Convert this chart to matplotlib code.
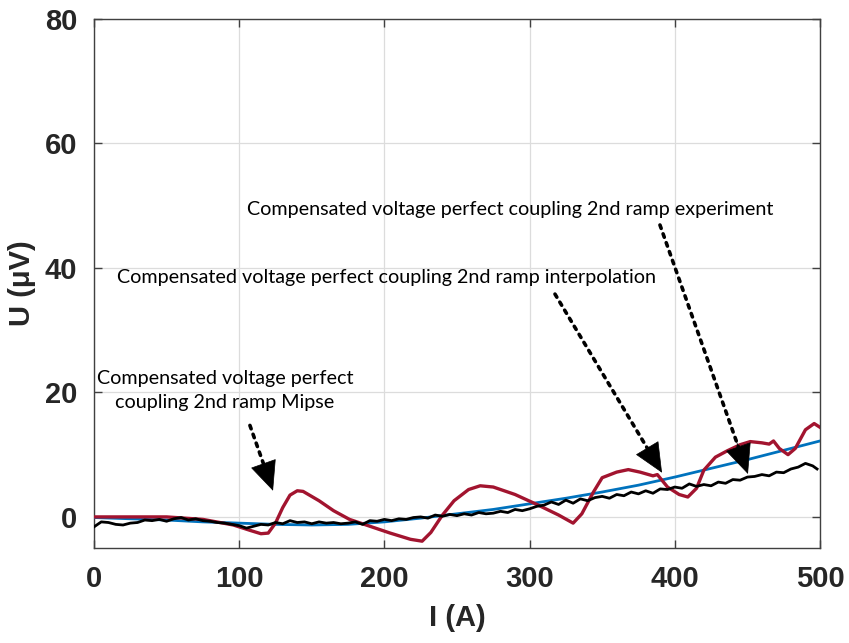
import numpy as np
import matplotlib
matplotlib.use("Agg")
import matplotlib.pyplot as plt

# --- data ---
mipse_I = [0, 20, 50, 75, 96, 108, 115, 120, 125, 130, 135, 140, 144, 155, 165, 176, 190, 204,
           218, 226, 232, 240, 248, 258, 266, 275, 290, 305, 320, 330, 336, 344, 350, 360, 368,
           376, 385, 388, 395, 403, 409, 415, 420, 428, 436, 445, 452, 460, 465, 468, 472, 478,
           483, 490, 496, 500]
mipse_U = [0.0, 0.0, 0.0, -0.4, -1.3, -2.2, -2.7, -2.6, -1.0, 1.5, 3.5, 4.2, 4.1, 2.6, 1.0, -0.4,
           -1.5, -2.6, -3.6, -3.9, -2.5, 0.3, 2.6, 4.4, 5.0, 4.8, 3.6, 2.0, 0.3, -1.0, 0.5, 4.0,
           6.3, 7.2, 7.6, 7.2, 6.6, 6.8, 4.8, 3.6, 3.2, 4.6, 7.5, 9.6, 10.6, 11.6, 12.1, 11.9,
           11.7, 12.2, 11.0, 10.0, 11.0, 14.0, 15.0, 14.4]

interp_I = [0, 25, 50, 75, 100, 125, 150, 175, 200, 225, 250, 275, 300, 325, 350, 375, 400,
            425, 450, 475, 500]
interp_U = [-0.1, -0.3, -0.5, -0.8, -1.0, -1.2, -1.3, -1.2, -0.8, -0.2, 0.5, 1.2, 2.1, 3.0,
            4.0, 5.1, 6.4, 7.8, 9.2, 10.7, 12.2]

exp_I = list(range(0, 500, 5)) + [498]
exp_U = [-1.6, -0.8, -0.9, -1.2, -1.3, -1.0, -0.9, -0.5, -0.6, -0.4, -0.7, -0.3, -0.1, -0.5,
         -0.3, -0.6, -0.7, -0.9, -1.0, -1.2, -1.4, -1.8, -1.5, -1.2, -1.3, -0.9, -1.1, -0.6,
         -0.9, -0.8, -1.1, -0.8, -1.0, -0.9, -1.1, -1.0, -0.8, -1.2, -0.6, -0.7, -0.4, -0.6,
         -0.3, -0.4, -0.1, 0.0, -0.2, 0.3, 0.1, 0.4, 0.2, 0.5, 0.3, 0.7, 0.5, 0.6, 0.9, 0.7,
         1.2, 1.0, 1.3, 1.7, 1.9, 2.4, 2.0, 2.7, 2.2, 2.9, 2.6, 3.1, 3.3, 3.0, 3.6, 3.4, 4.0,
         3.7, 4.2, 3.8, 4.5, 4.4, 4.8, 4.6, 5.3, 4.9, 5.2, 5.0, 5.6, 5.4, 6.0, 5.9, 6.4, 6.5,
         6.8, 6.6, 7.2, 7.1, 7.7, 8.0, 8.6, 8.2, 7.7]

x_ticks = [0, 100, 200, 300, 400, 500]
y_ticks = [0, 20, 40, 60, 80]

# annotation text, text position, arrow tail and arrow tip (data coords)
notes = [
    ("Compensated voltage perfect coupling 2nd ramp experiment", (286.5, 49.4), (389.8, 46.9), (450.4, 6.9)),
    ("Compensated voltage perfect coupling 2nd ramp interpolation", (201.8, 38.4), (317.5, 35.8), (391.2, 7.1)),
    ("Compensated voltage perfect\ncoupling 2nd ramp Mipse", (90.2, 20.3), (107.4, 14.7), (123.3, 4.2)),
]

fig = plt.figure(figsize=(8.49, 6.43), dpi=100)
ax = fig.add_axes([0.1107, 0.1477, 0.8551, 0.8228])

ax.plot(interp_I, interp_U, color="#0072BD", lw=2.0, zorder=3)
ax.plot(mipse_I, mipse_U, color="#A2142F", lw=2.4, zorder=4)
ax.plot(exp_I, exp_U, color="black", lw=2.0, zorder=5)

ax.set_xlim(0, 500)
ax.set_ylim(-5, 80)
ax.set_xticks(x_ticks)
ax.set_yticks(y_ticks)
ax.grid(True, color="#dcdcdc", lw=0.9)
ax.set_axisbelow(True)
ax.tick_params(direction="in", top=True, right=True, length=6, width=1, color="#404040",
               labelsize=21, pad=12)
for lbl in ax.get_xticklabels() + ax.get_yticklabels():
    lbl.set_fontweight("bold")
    lbl.set_fontfamily("Liberation Sans")
    lbl.set_color("#262626")
for s in ax.spines.values():
    s.set_color("#404040")
    s.set_linewidth(1)

ax.set_xlabel("I (A)", fontsize=21, fontweight="bold", family="Liberation Sans",
              color="#262626", labelpad=8)
ax.set_ylabel("U (μV)", fontsize=21, fontweight="bold", family="Liberation Sans",
              color="#262626", labelpad=6)

for txt, tpos, tail, tip in notes:
    ax.text(*tpos, txt, ha="center", va="center", fontsize=14.2, family="Lato",
            linespacing=1.45, zorder=6)
    # dotted shaft
    ax.annotate("", xy=tip, xytext=tail,
                arrowprops=dict(arrowstyle="-", color="black", lw=2.6, ls=(0, (1, 1.6)),
                                shrinkA=0, shrinkB=8),
                zorder=6)
    # solid triangular head
    near = (tail[0] + 0.85 * (tip[0] - tail[0]), tail[1] + 0.85 * (tip[1] - tail[1]))
    ax.annotate("", xy=tip, xytext=near,
                arrowprops=dict(arrowstyle="-|>,head_length=1.0,head_width=0.45",
                                color="black", lw=0.5, mutation_scale=20,
                                shrinkA=0, shrinkB=0),
                zorder=7)

fig.savefig("out.png", dpi=100)
